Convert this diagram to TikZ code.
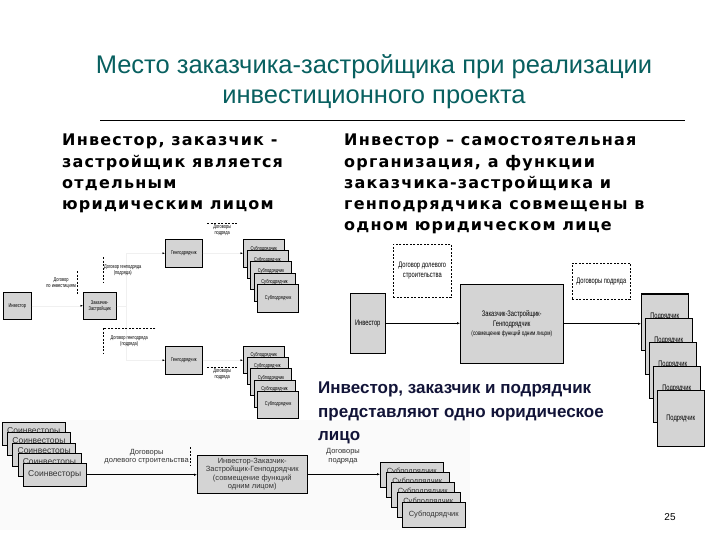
\documentclass[tikz,border=0pt]{standalone}
\usepackage{fontspec}
\setmainfont{Liberation Sans}
\newfontfamily\vfont[LetterSpace=7.6]{DejaVu Sans}
\newfontfamily\nfont[FakeStretch=0.72]{Liberation Sans}
\usetikzlibrary{positioning,arrows.meta}
\definecolor{titleteal}{RGB}{8,96,96}
\definecolor{boxgray}{RGB}{212,212,212}
\definecolor{navytext}{RGB}{18,20,56}

\tikzset{
  gbox/.style 2 args={draw=black,line width=0.5pt,fill=boxgray,anchor=north west,
    inner sep=0.5pt,align=center,minimum width=#1,minimum height=#2},
  upper/.style={text depth=#1},
  tinytxt/.style={font=\nfont\fontsize{5.5}{6}\selectfont},
  midtxt/.style={font=\nfont\fontsize{8}{9.5}\selectfont},
  smalltxt/.style={font=\fontsize{7.5}{8.5}\selectfont,text=black!80},
  dashline/.style={dashed,line width=0.6pt,dash pattern=on 2pt off 1.5pt},
  ghost/.style={draw=gray!12,line width=0.4pt,-{Latex[length=2.5pt,width=2pt,color=black]}},
  arr/.style={draw=black,line width=0.6pt,-{Latex[length=3pt,width=2.5pt]}},
  leadtxt/.style={inner sep=1pt,align=left,font=\vfont\bfseries\fontsize{16}{21.2}\selectfont},
}

\begin{document}
\begin{tikzpicture}[x=1pt,y=-1pt]
\useasboundingbox (0,0) rectangle (720,540);
\fill[white] (0,0) rectangle (720,540);

% title and headings
\node[font=\fontsize{25.5}{30}\selectfont,text=titleteal,align=center] (title) at (374,82)
  {Место заказчика-застройщика при реализации\\инвестиционного проекта};
\coordinate (rulel) at (100,120);
\coordinate (ruler) at (685,120);
\draw[line width=0.6pt] (rulel) -- (ruler);
\node[leadtxt,anchor=north west] (headl) at (61,133)
  {Инвестор, заказчик -\\застройщик является\\отдельным\\юридическим лицом};
\node[leadtxt,anchor=north west] (headr) at (343,133)
  {Инвестор – самостоятельная\\организация, а функции\\заказчика-застройщика и\\генподрядчика совмещены в\\одном юридическом лице};

% first scheme
\node[gbox={28}{27},tinytxt] (inv1) at (3,292) {Инвестор};
\node[gbox={33}{27},tinytxt] (zz1) at (83,292) {Заказчик-\\Застройщик};
\node[gbox={37}{28},tinytxt] (gpa) at (165,239) {Генподрядчик};
\node[gbox={37}{28},tinytxt] (gpb) at (165,346) {Генподрядчик};
\foreach \i in {0,...,3}
  \node[gbox={41}{28},tinytxt,upper=10pt] (sa\i) at ({243+3.6*\i},{239+11.2*\i}) {Субподрядчик};
\node[gbox={41}{28},tinytxt] (sa4) at (257.4,283.8) {Субподрядчик};
\foreach \i in {0,...,3}
  \node[gbox={41}{27},tinytxt,upper=10pt] (sb\i) at ({243+3.6*\i},{346+11.2*\i}) {Субподрядчик};
\node[gbox={41}{27},tinytxt] (sb4) at (257.4,390.8) {Субподрядчик};

\draw[ghost] (inv1) -- (zz1);
\draw[ghost] (zz1.east) -- ++(10,0) |- (gpa.west);
\draw[ghost] (zz1.east) -- ++(10,0) |- (gpb.west);
\draw[ghost] (gpa.east) -- (gpa.east -| sa0.west);
\draw[ghost] (gpb.east) -- (gpb.east -| sb0.west);

\node[tinytxt,align=center,anchor=north east,minimum height=23,inner sep=1pt] (c1) at (77,271)
  {Договор\\по инвестициям};
\draw[dashline] (c1.north east) -- (c1.south east);
\node[tinytxt,align=center,anchor=north west,minimum height=26,inner sep=1pt] (c2) at (103,257)
  {Договор генподряда\\(подряда)};
\draw[dashline] (c2.north west) -- (c2.south west);
\node[tinytxt,align=center,anchor=north west,minimum height=25,minimum width=52,inner sep=1pt] (c3) at (103,328)
  {Договор генподряда\\(подряда)};
\draw[dashline] (c3.north east) -- (c3.north west) -- (c3.south west);
\node[tinytxt,align=center,anchor=north west,minimum width=30,inner sep=1.5pt] (c4) at (207,223)
  {Договоры\\подряда};
\draw[dashline] (c4.north west) -- (c4.north east);
\node[tinytxt,align=center,anchor=north west,minimum width=30,inner sep=1.5pt] (c5) at (207,367)
  {Договоры\\подряда};
\draw[dashline] (c5.north west) -- (c5.north east);

% second scheme
\node[gbox={35}{60},midtxt] (inv2) at (350,293) {Инвестор};
\node[draw,dashline,midtxt,align=center,anchor=north west,minimum width=58,minimum height=53] (d1) at (393,244)
  {Договор долевого\\строительства};
\node[gbox={103}{79},midtxt] (zzg) at (460,284)
  {Заказчик-Застройщик-\\Генподрядчик\\{\fontsize{6.5}{8}\selectfont(совмещение функций одним лицом)}};
\node[draw,dashline,midtxt,align=center,anchor=north west,minimum width=58,minimum height=36] (d2) at (572,263)
  {Договоры подряда};
\foreach \i in {0,...,3}
  \node[gbox={47}{56},midtxt,upper=14pt] (pd\i) at ({641+4*\i},{294+24*\i}) {Подрядчик};
\node[gbox={47}{56},midtxt] (pd4) at (657,390) {Подрядчик};
\draw[line width=1.2pt] (pd0.north west) -- (pd0.north east);
\draw[arr] (inv2.east) -- (inv2.east -| zzg.west);
\draw[arr] (zzg.east) -- (zzg.east -| pd0.west);

% third scheme
\fill[gray!4] (0,420) rectangle (470,530);
\foreach \i in {0,...,3}
  \node[gbox={63}{23},smalltxt,font=\fontsize{8.5}{9}\selectfont,upper=7pt] (ci\i) at ({2+5.2*\i},{422+10.3*\i}) {Соинвесторы};
\node[gbox={63}{23},smalltxt,font=\fontsize{8.5}{9}\selectfont] (ci4) at (23,463) {Соинвесторы};
\node[gbox={110}{38},smalltxt] (izz) at (197,455)
  {Инвестор-Заказчик-\\Застройщик-Генподрядчик\\(совмещение функций\\одним лицом)};
\foreach \i in {0,...,3}
  \node[gbox={63}{25},smalltxt,upper=9pt] (ss\i) at ({380+5.5*\i},{462+10*\i}) {Субподрядчик};
\node[gbox={63}{25},smalltxt] (ss4) at (402,502) {Субподрядчик};
\draw[arr] (ci4.east) -- (ci4.east -| izz.west);
\draw[arr] (izz.east) -- (izz.east -| ss0.west);
\node[smalltxt,align=center,anchor=north east,minimum height=19,inner sep=1pt] (c6) at (190,447)
  {Договоры\\долевого строительства};
\draw[dashline] (c6.north east) -- (c6.south east);
\node[smalltxt,align=center,inner sep=0.5pt] (c7) at (343,456) {Договоры\\подряда};

% caption over the schemes
\node[font=\bfseries\fontsize{17}{23.5}\selectfont,text=navytext,align=left,anchor=north west,inner sep=0pt] (cap) at (318,382)
  {Инвестор, заказчик и подрядчик\\представляют одно юридическое\\лицо};

\node[font=\fontsize{10}{12}\selectfont] (pnum) at (670,517) {25};
\end{tikzpicture}
\end{document}
